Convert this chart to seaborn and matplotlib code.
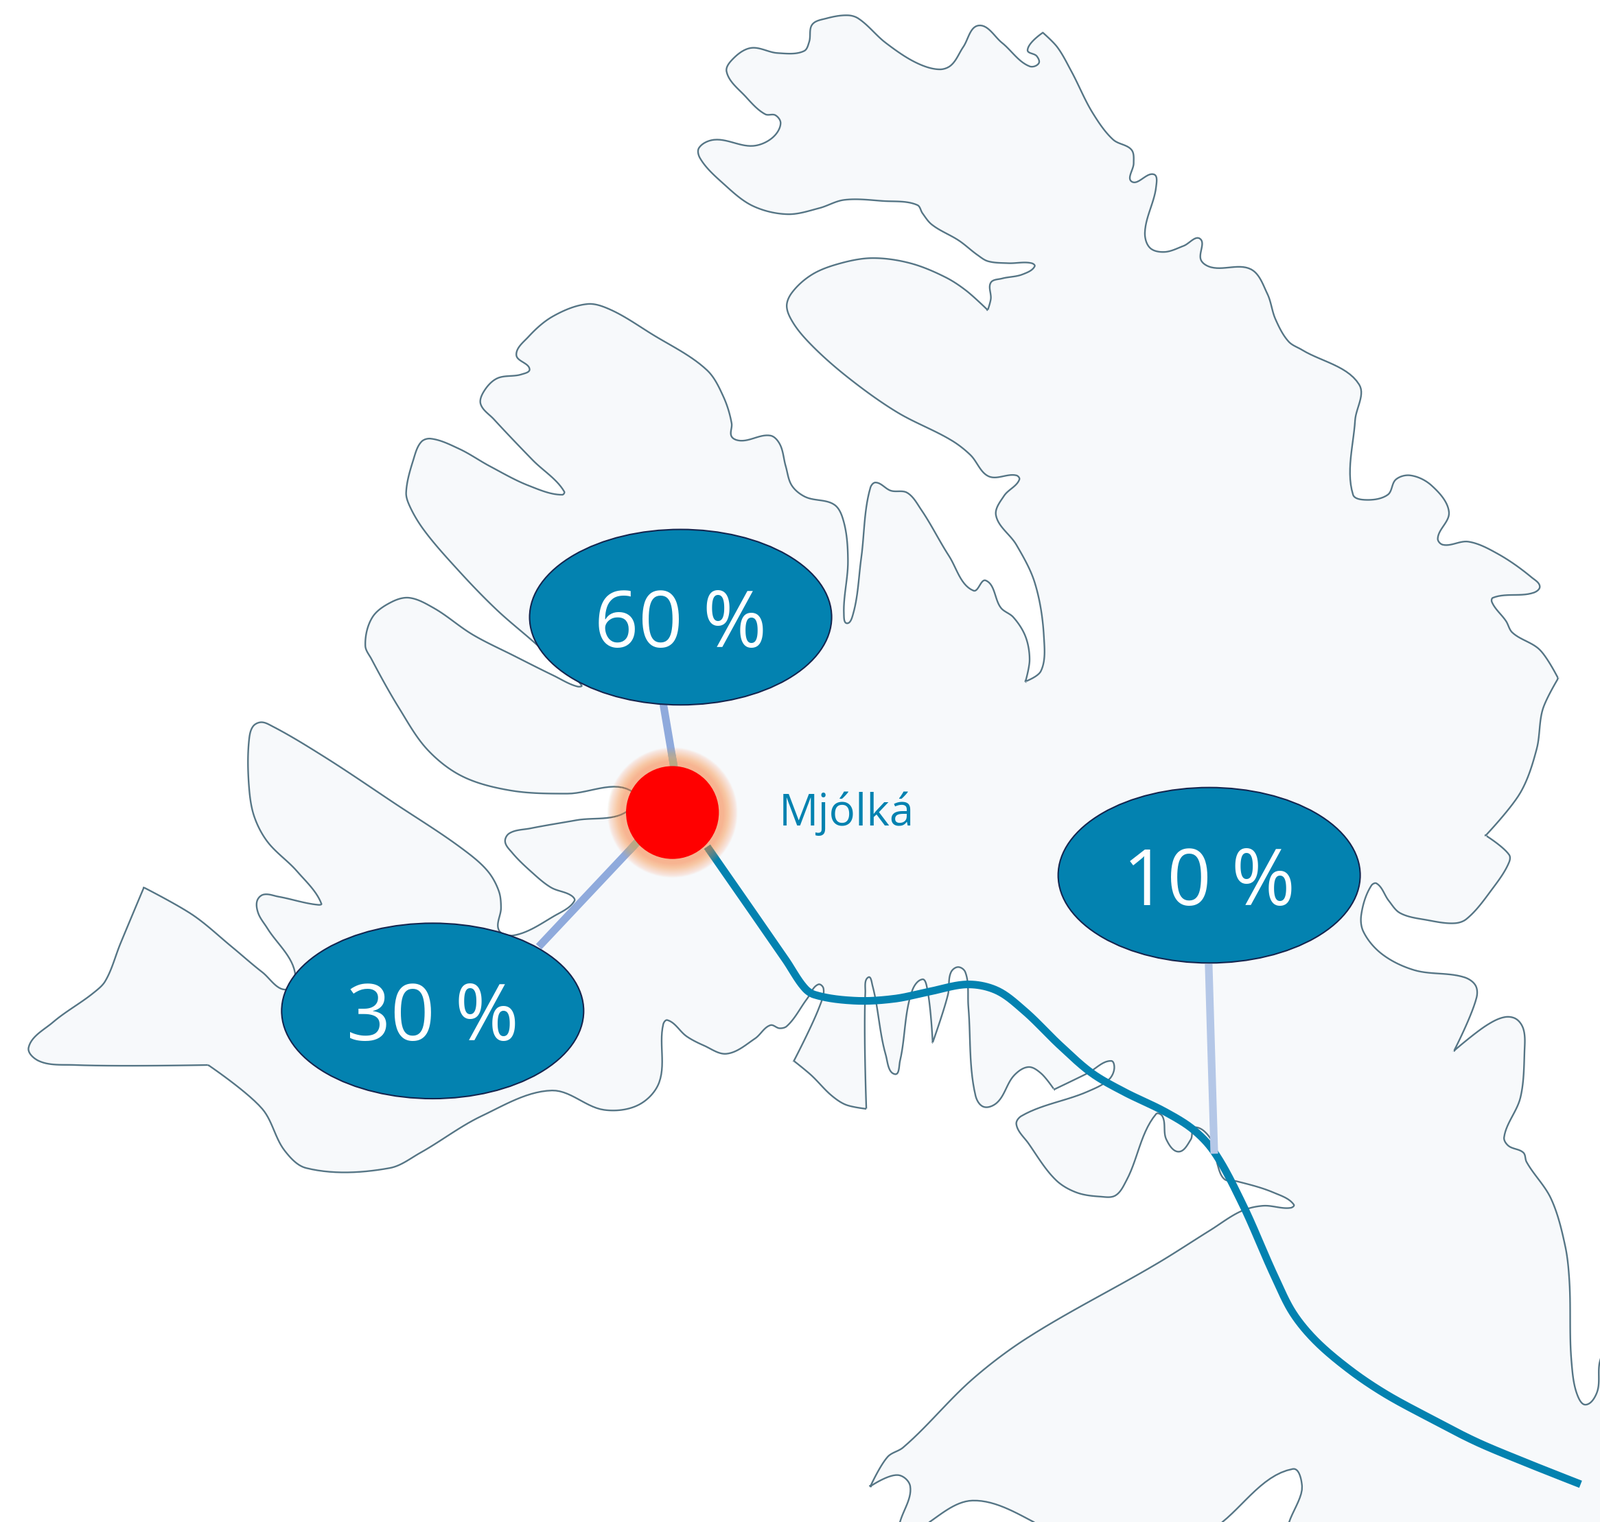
import numpy as np
import pandas as pd
import matplotlib
matplotlib.use("Agg")
import matplotlib.pyplot as plt
from matplotlib.patches import Ellipse, Circle
import seaborn as sns

# ---------- data (1568 x 1492 frame) ----------
# a repeated point marks a sharp corner of the coast
coast = [
 (28,1027),(52,1002),(92,973),(103,962),(118,925),(141,870),(141,870),(189,897),(227,928),(257,953),(281,970),
 (289,953),(262,910),(253,895),(252,883),(258,877),(273,879),(312,887),(315,886),(291,854),(262,825),(249,800),(244,771),(244,726),(248,712),(256,708),(267,712),
 (318,742),(386,787),(453,832),(478,854),(489,874),(491,890),(489,912),
 (503,917),(543,898),(563,883),(560,878),(540,870),(520,854),(502,836),(495,825),(499,817),(520,812),(565,804),(615,795),
 (618,775),(556,778),(501,775),(453,761),(419,735),(391,694),(364,646),(358,633),(365,605),(384,590),(401,586),(425,596),(463,622),(504,643),(542,662),(566,673),(570,672),
 (525,631),(487,598),(450,560),(415,519),(401,495),(398,483),(405,451),(413,433),(422,430),(450,440),(480,457),(518,476),(551,485),(553,482),
 (522,451),(484,411),(471,396),(474,384),(487,371),(511,367),(519,362),(506,348),(518,330),(542,310),(576,298),(597,303),(638,327),(693,363),(709,389),(717,415),(717,428),
 (726,432),(755,427),(764,435),(770,457),(776,476),(789,487),(818,495),(827,512),(831,550),(827,602),(830,611),(836,602),(844,547),(853,478),(858,473),(873,481),(889,483),
 (903,500),(930,545),(954,579),(966,569),(981,596),(993,605),(1005,624),(1009,647),(1005,668),(1005,668),(1020,658),(1023,624),(1014,571),(996,534),(976,505),(984,486),(999,470),(996,466),(969,467),
 (951,446),(933,432),(879,404),(831,370),(795,338),(777,316),(771,300),(776,287),(796,269),(824,258),(855,253),(892,258),(927,272),(947,285),(968,304),(968,304),(971,293),(971,277),(982,273),
 (1002,269),(1014,261),(1011,258),(988,258),(968,256),(958,250),(940,236),(913,220),(904,209),(899,201),(865,197),(827,196),(803,204),(772,210),(738,202),(710,181),(686,155),(685,145),(700,137),(738,143),
 (757,135),(765,121),(760,113),(750,112),(731,95),(712,70),(719,57),(736,47),(762,52),(788,50),(793,41),(796,24),(810,18),(831,15),(841,18),(868,42),(899,62),(921,68),(932,64),(944,46),(959,25),
 (982,42),(1009,65),(1018,62),(1016,55),(1007,49),(1022,32),(1022,32),(1036,46),(1050,70),(1071,111),(1091,137),(1109,147),(1111,160),(1109,178),(1131,171),(1133,183),(1122,228),(1127,243),(1141,247),(1160,241),
 (1176,234),(1177,255),(1187,262),(1226,264),(1242,288),(1250,313),(1263,335),(1276,343),(1332,377),(1328,412),(1326,485),(1338,490),(1360,485),(1368,470),(1382,466),(1403,476),(1420,502),(1409,528),(1414,534),
 (1439,531),(1468,543),(1501,566),(1509,575),(1503,581),(1463,586),(1462,590),(1476,609),(1482,620),(1509,637),(1527,665),(1527,665),(1512,695),(1506,734),(1490,777),(1456,819),(1456,819),
 (1479,838),(1479,845),(1462,872),(1437,901),(1426,905),(1399,902),(1372,895),(1361,883),(1349,866),(1344,868),(1334,897),(1336,913),(1354,935),(1386,951),(1435,958),(1446,966),(1447,978),
 (1425,1030),(1425,1030),(1457,1005),(1475,997),(1486,999),(1493,1009),(1494,1031),(1490,1076),(1474,1115),(1478,1123),(1493,1130),(1496,1139),(1520,1175),(1534,1222),(1538,1256),
 (1540,1334),(1546,1368),(1554,1377),(1565,1365),(1568,1334),(1580,1310),(1580,1505),
 (1267,1505),(1276,1457),(1267,1440),(1198,1492),(1190,1500),(1020,1500),(1013,1492),(953,1471),(911,1492),(905,1500),(880,1500),(882,1492),(892,1457),(880,1446),
 (853,1457),(853,1457),(870,1428),(885,1419),(953,1352),(1006,1312),(1135,1238),(1186,1206),(1217,1187),(1238,1182),(1265,1184),(1268,1181),
 (1248,1169),(1212,1158),(1200,1156),(1193,1141),(1190,1122),(1171,1105),(1167,1117),(1155,1129),(1143,1117),(1139,1094),(1133,1092),(1104,1157),
 (1093,1172),(1078,1173),(1055,1169),(1035,1157),(1008,1121),(996,1102),(1001,1094),(1066,1070),(1087,1058),(1092,1047),(1089,1040),(1066,1052),
 (1033,1068),(1033,1068),(1020,1052),(1008,1046),(994,1054),(977,1081),(964,1085),(956,1074),(949,987),(946,953),(939,948),(932,953),(929,975),
 (914,1022),(914,1022),(908,966),(904,960),(894,971),(882,1040),(877,1053),(868,1034),(855,966),(851,958),(848,973),(849,1087),(849,1087),
 (829,1083),(815,1074),(795,1054),(778,1040),(778,1040),(803,987),(807,969),(802,965),(791,979),(771,1006),(764,1008),(755,1005),(740,1018),
 (712,1033),(690,1025),(673,1016),(654,1000),(650,1004),(646,1061),(626,1083),(592,1088),(541,1069),(472,1094),(412,1130),(382,1145),(300,1145),
 (279,1128),(257,1087),(204,1044),(204,1044),(73,1044),(38,1040),
]
coast_x = [p[0] for p in coast]
coast_y = [p[1] for p in coast]

river_x = [693,770,789,798,838,877,911,949,977,1004,1039,1070,1101,1142,1169,1189,1217,1249,1267,1289,1323,1357,1401,1446,1491,1549]
river_y = [830,941,969,975,981,979,972,965,971,991,1025,1052,1070,1090,1107,1128,1179,1251,1287,1314,1343,1366,1390,1413,1432,1455]

site_x, site_y = 659, 796.5
site_label = "Mjólká"
share_labels = ["60 %", "30 %", "10 %"]
share_x = [667, 424, 1185]
share_y = [605, 991, 858]
leader_x = [[650, 661], [528, 625], [1184.5, 1190]]
leader_y = [[690, 755], [928, 825], [945, 1131]]
leader_colors = ["#8FAADC", "#8FAADC", "#B4C7E7"]

BLUE = "#0382B0"


def smooth(xs, ys, closed=False, n=14):
    """Bezier through the read points; repeated points stay sharp."""
    P = np.column_stack([xs, ys]).astype(float)
    m = len(P)
    out = []
    def tangent(i):
        a = P[(i - 1) % m] if (closed or i > 0) else P[i]
        b = P[(i + 1) % m] if (closed or i < m - 1) else P[i]
        la, lb = np.hypot(*(P[i] - a)), np.hypot(*(b - P[i]))
        if la < 1e-9 or lb < 1e-9:
            return np.zeros(2)
        d = (P[i] - a) / la ** 0.5 + (b - P[i]) / lb ** 0.5
        nrm = np.hypot(*d)
        return d / nrm if nrm else np.zeros(2)
    T = [tangent(i) for i in range(m)]
    t = np.linspace(0, 1, n, endpoint=False)[:, None]
    for i in range(m if closed else m - 1):
        j = (i + 1) % m
        L = np.hypot(*(P[j] - P[i]))
        c1 = P[i] + T[i] * L * 0.33
        c2 = P[j] - T[j] * L * 0.33
        out.append((1 - t) ** 3 * P[i] + 3 * (1 - t) ** 2 * t * c1 + 3 * (1 - t) * t ** 2 * c2 + t ** 3 * P[j])
    out = np.vstack(out)
    if not closed:
        out = np.vstack([out, P[-1]])
    return out[:, 0], out[:, 1]


sns.set_theme(style="white")
plt.rcParams["font.family"] = ["Open Sans", "DejaVu Sans"]

fig = plt.figure(figsize=(23.31, 22.18), dpi=100, facecolor="white")
ax = fig.add_axes([0, 0, 1, 1])
ax.set_xlim(0, 1568)
ax.set_ylim(1492, 0)
ax.axis("off")

cx, cy = smooth(coast_x, coast_y, closed=True)
ax.fill(cx, cy, facecolor="#F7F9FB", edgecolor="#557585", linewidth=1.7, zorder=1)

# river
rx, ry = smooth(river_x, river_y, n=30)
sns.lineplot(data=pd.DataFrame({"x": rx, "y": ry}), x="x", y="y", sort=False, estimator=None,
             color=BLUE, linewidth=8, ax=ax, zorder=2, legend=False,
             solid_capstyle="butt")

# leaders
for lx, ly, c in zip(leader_x, leader_y, leader_colors):
    sns.lineplot(data=pd.DataFrame({"x": lx, "y": ly}), x="x", y="y", sort=False, estimator=None,
                 color=c, linewidth=8, ax=ax, zorder=3, legend=False,
                 solid_capstyle="butt")

# glow
for r in np.linspace(64, 50, 60):
    ax.add_patch(Circle((site_x, site_y), r, facecolor="#F8A868", edgecolor="none", alpha=0.015, zorder=4))

# site marker
ax.add_patch(Circle((site_x, site_y), 45.5, facecolor="#FF0000", edgecolor="none", zorder=5))
ax.text(763, 809, site_label, color=BLUE, fontsize=46, ha="left", va="baseline", zorder=6)

# share bubbles
for lab, x, y in zip(share_labels, share_x, share_y):
    ax.add_patch(Ellipse((x, y), 296, 172, facecolor=BLUE, edgecolor="#14254F", linewidth=1.5, zorder=6))
    ax.text(x, y + 29, lab, color="white", fontsize=81, ha="center", va="baseline", zorder=7)

fig.savefig("out.png", dpi=100, facecolor="white")
